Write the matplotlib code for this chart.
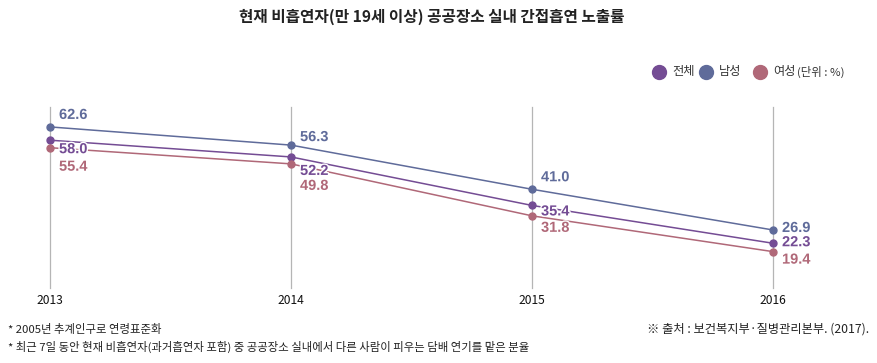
import matplotlib.pyplot as plt
import matplotlib.patheffects as pe

plt.rcParams['font.family'] = ['Noto Sans CJK KR', 'DejaVu Sans']

years = [2013, 2014, 2015, 2016]
total = [58.0, 52.2, 35.4, 22.3]
male = [62.6, 56.3, 41.0, 26.9]
female = [55.4, 49.8, 31.8, 19.4]

c_total = '#744c94'
c_male = '#5f6b9a'
c_female = '#b06878'

# vertical label offsets in pixels (positive = down), per point
off_male = [-12, -8, -12, -2]
off_total = [9, 14, 6, -1]
off_female = [19, 22, 12, 8]

W, H = 878, 363
fig = plt.figure(figsize=(W / 100, H / 100), dpi=100)

# axes placed in pixel coordinates
x0, x1 = 50, 773
y_top, y_bot = 107, 288
ax = fig.add_axes([x0 / W, 1 - y_bot / H, (x1 - x0) / W, (y_bot - y_top) / H])
ax.set_xlim(2013, 2016)
ax.set_ylim(6.8, 69.5)
ax.axis('off')

for yr in years:
    ax.axvline(yr, color='#b5b5b5', lw=0.9, zorder=0, clip_on=False)
    ax.text(yr, -0.035, str(yr), transform=ax.get_xaxis_transform(),
            ha='center', va='top', fontsize=8.7, color='#111111')

for vals, col in [(male, c_male), (total, c_total), (female, c_female)]:
    ax.plot(years, vals, color=col, lw=1.1, marker='o', ms=5,
            clip_on=False, zorder=3)

num_font = dict(fontsize=10.5, fontweight='bold', family='Liberation Sans')
halo = [pe.withStroke(linewidth=2, foreground='white')]
for vals, offs, col in [(male, off_male, c_male), (total, off_total, c_total),
                        (female, off_female, c_female)]:
    for yr, v, o in zip(years, vals, offs):
        ax.annotate(f'{v:.1f}', (yr, v), xytext=(6.5, -o * 0.72),
                    textcoords='offset points', ha='left', va='center',
                    color=col, zorder=6, path_effects=halo, **num_font)

# title
fig.text(432 / W, 1 - 17 / H, '현재 비흡연자(만 19세 이상) 공공장소 실내 간접흡연 노출률',
         ha='center', va='center', fontsize=11.3, fontweight='bold', color='#222222')

# legend
ly = 1 - 72 / H
for px, label, col in [(659, '전체', c_total), (706, '남성', c_male), (760, '여성', c_female)]:
    ax.scatter([px / W], [ly], s=100, color=col, transform=fig.transFigure,
               clip_on=False, zorder=5)
    fig.text((px + 13) / W, ly, label, ha='left', va='center', fontsize=8.8, color='#333333')
fig.text(797 / W, ly, '(단위 : %)', ha='left', va='center', fontsize=8.2, color='#333333')

# footnotes
fig.text(8 / W, 1 - 329 / H, '* 2005년 추계인구로 연령표준화',
         ha='left', va='center', fontsize=8.2, color='#222222')
fig.text(8 / W, 1 - 347 / H,
         '* 최근 7일 동안 현재 비흡연자(과거흡연자 포함) 중 공공장소 실내에서 다른 사람이 피우는 담배 연기를 맡은 분율',
         ha='left', va='center', fontsize=8.2, color='#222222')
fig.text(869 / W, 1 - 329 / H, '※ 출처 : 보건복지부·질병관리본부. (2017).',
         ha='right', va='center', fontsize=8.8, color='#222222')

fig.savefig('out.png', dpi=100)
